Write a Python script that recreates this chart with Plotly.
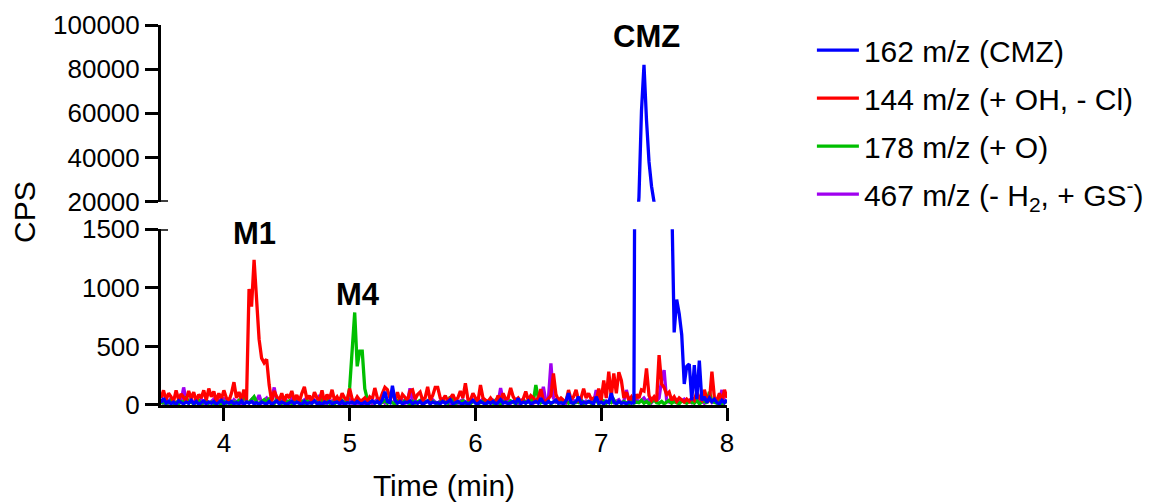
import numpy as np
import plotly.graph_objects as go

# Acquisition grid: 3.50-8.00 min, one scan every 0.02 min (226 scans)
time_min = np.round(np.linspace(3.5, 8.0, 226), 2)

# Extracted ion chromatograms in counts per second, ten scans (0.2 min) per row
cps_162 = [
    20, 57, 15, 30, 10, 25, 5, 35, 20, 10,
    25, 15, 40, 10, 30, 5, 20, 35, 10, 25,
    15, 30, 5, 20, 40, 10, 25, 15, 30, 10,
    20, 10, 35, 5, 25, 15, 30, 10, 20, 5,
    25, 15, 10, 30, 5, 20, 35, 10, 25, 15,
    5, 20, 30, 10, 25, 15, 5, 30, 10, 20,
    15, 35, 10, 20, 5, 25, 15, 30, 10, 20,
    25, 10, 30, 5, 20, 15, 25, 10, 30, 15,
    10, 25, 5, 20, 35, 15, 30, 10, 45, 113,
    30, 20, 164, 40, 15, 30, 10, 25, 20, 35,
    10, 25, 15, 30, 5, 20, 35, 10, 25, 15,
    20, 10, 30, 15, 25, 45, 10, 20, 30, 15,
    10, 25, 5, 20, 40, 15, 10, 30, 20, 5,
    25, 15, 30, 10, 20, 45, 15, 25, 10, 20,
    30, 15, 57, 10, 25, 15, 35, 10, 20, 30,
    15, 57, 20, 10, 30, 15, 25, 40, 15, 20,
    10, 35, 100, 20, 15, 30, 71, 10, 25, 15,
    30, 20, 10, 71, 15, 25, 10, 30, 20, 100,
    25, 10, 30, 15, 20, 10, 25, 15, 20, 6000,
    22000, 61000, 82000, 57000, 38000, 27000, 17000, 9000, 5500, 3800,
    3000, 2400, 2000, 1800, 620, 900, 780, 600, 180, 330,
    350, 40, 340, 50, 380, 40, 70, 20, 60, 30,
    50, 20, 10, 40, 20, 45,
]

cps_144 = [
    60, 125, 40, 100, 70, 30, 125, 45, 95, 60,
    35, 120, 55, 110, 30, 90, 60, 125, 40, 140,
    70, 115, 30, 100, 50, 125, 60, 35, 100, 195,
    60, 110, 45, 130, 40, 990, 840, 1240, 900, 560,
    400, 360, 390, 170, 30, 120, 70, 40, 100, 30,
    90, 60, 120, 40, 85, 30, 100, 155, 50, 80,
    30, 110, 60, 40, 125, 20, 90, 50, 130, 40,
    70, 30, 100, 60, 40, 140, 50, 30, 70, 40,
    40, 60, 30, 70, 50, 145, 60, 40, 100, 150,
    130, 60, 100, 40, 110, 30, 90, 60, 40, 120,
    130, 50, 90, 110, 40, 60, 155, 40, 80, 150,
    150, 60, 40, 80, 35, 60, 90, 40, 60, 120,
    60, 185, 50, 40, 100, 60, 30, 170, 60, 40,
    30, 60, 30, 20, 80, 40, 100, 50, 60, 145,
    70, 40, 60, 30, 50, 115, 40, 80, 60, 30,
    60, 135, 40, 30, 60, 80, 270, 90, 40, 60,
    40, 30, 128, 50, 70, 130, 40, 60, 140, 60,
    100, 50, 60, 30, 140, 40, 210, 60, 285, 70,
    270, 100, 280, 210, 60, 110, 40, 70, 30, 90,
    60, 130, 120, 313, 80, 40, 70, 30, 426, 180,
    150, 90, 110, 40, 70, 30, 60, 40, 25, 50,
    30, 60, 40, 110, 60, 40, 130, 50, 30, 284,
    60, 40, 100, 30, 130, 60,
]

cps_178 = [
    10, 30, 5, 20, 40, 15, 25, 10, 30, 20,
    71, 15, 30, 5, 25, 40, 10, 20, 35, 15,
    25, 10, 40, 20, 5, 30, 15, 45, 10, 25,
    20, 40, 15, 128, 30, 20, 50, 71, 25, 10,
    30, 45, 15, 60, 20, 10, 50, 30, 15, 40,
    20, 35, 10, 45, 25, 15, 30, 10, 40, 20,
    15, 30, 25, 10, 40, 20, 35, 15, 25, 10,
    30, 20, 40, 15, 30, 150, 480, 790, 330, 460,
    460, 140, 50, 20, 35, 15, 30, 10, 25, 40,
    15, 30, 20, 10, 35, 25, 15, 40, 20, 10,
    30, 15, 25, 40, 10, 20, 35, 15, 30, 20,
    10, 25, 40, 20, 15, 71, 30, 10, 25, 20,
    35, 15, 25, 10, 30, 40, 15, 20, 35, 10,
    20, 30, 15, 40, 25, 10, 30, 20, 15, 35,
    25, 10, 30, 20, 45, 15, 30, 60, 25, 170,
    60, 20, 35, 15, 30, 10, 25, 40, 15, 30,
    20, 35, 15, 25, 10, 30, 20, 40, 15, 25,
    30, 15, 25, 40, 10, 20, 35, 15, 30, 20,
    45, 10, 25, 15, 30, 20, 10, 35, 15, 25,
    20, 40, 15, 30, 10, 25, 45, 20, 15, 30,
    10, 25, 40, 15, 30, 20, 10, 35, 25, 15,
    30, 20, 15, 40, 10, 25, 35, 15, 113, 30,
    20, 15, 35, 10, 25, 30,
]

cps_467 = [
    30, 15, 45, 20, 60, 25, 10, 40, 30, 150,
    40, 20, 55, 10, 35, 25, 50, 15, 40, 20,
    30, 50, 15, 40, 25, 60, 20, 35, 10, 45,
    25, 40, 15, 55, 30, 20, 45, 10, 35, 85,
    20, 40, 60, 25, 45, 150, 30, 15, 50, 20,
    35, 15, 57, 25, 40, 10, 30, 45, 20, 35,
    15, 40, 25, 85, 30, 10, 45, 20, 35, 15,
    40, 25, 10, 35, 20, 45, 15, 30, 10, 25,
    35, 15, 40, 25, 10, 30, 50, 20, 35, 15,
    30, 45, 20, 10, 35, 25, 40, 15, 30, 142,
    25, 40, 15, 30, 50, 20, 35, 10, 45, 25,
    15, 35, 50, 20, 30, 10, 40, 25, 15, 35,
    45, 20, 30, 15, 40, 25, 10, 35, 50, 20,
    30, 15, 40, 25, 10, 145, 35, 20, 45, 15,
    25, 40, 15, 35, 50, 20, 30, 45, 15, 30,
    60, 40, 156, 30, 50, 355, 60, 25, 40, 20,
    35, 15, 45, 25, 40, 20, 30, 50, 15, 35,
    25, 40, 20, 128, 30, 45, 15, 35, 25, 40,
    20, 30, 45, 15, 35, 128, 40, 20, 30, 50,
    25, 40, 60, 30, 50, 20, 45, 35, 60, 213,
    298, 40, 25, 50, 30, 45, 20, 35, 50, 25,
    40, 20, 35, 50, 25, 40, 15, 30, 45, 20,
    35, 25, 40, 128, 20, 35,
]

# Legend text and colours, listed bottom layer first
series_names = [
    "467 m/z (- H<sub>2</sub>, + GS<sup>-</sup>)",
    "178 m/z (+ O)",
    "144 m/z (+ OH, - Cl)",
    "162 m/z (CMZ)",
]
series_values = [cps_467, cps_178, cps_144, cps_162]
series_colors = ["#A000F0", "#00BF00", "#FF0000", "#0000FF"]
legend_rank = [4, 3, 2, 1]

# Peak labels and the trace each one belongs to
peak_labels = ["M1", "M4", "CMZ"]
peak_series = [cps_144, cps_178, cps_162]

x_ticks = [4, 5, 6, 7, 8]
low_ticks = [0, 500, 1000, 1500]
high_ticks = [20000, 40000, 60000, 80000, 100000]

FONT = "Liberation Sans, Arial, sans-serif"
AXIS_W = 3
LINE_W = 3.3

fig = go.Figure()
for name, vals, col, rank in zip(series_names, series_values, series_colors, legend_rank):
    grp = name.split()[0]
    # lower segment of the broken axis
    fig.add_trace(go.Scatter(
        x=time_min, y=vals, mode="lines", name=name, legendgroup=grp,
        legendrank=rank, line=dict(color=col, width=LINE_W),
        xaxis="x", yaxis="y",
    ))
    # upper segment
    fig.add_trace(go.Scatter(
        x=time_min, y=vals, mode="lines", name=name, legendgroup=grp,
        legendrank=rank, showlegend=False, line=dict(color=col, width=LINE_W),
        xaxis="x2", yaxis="y2",
    ))

# label placement offsets in px (above the apex)
label_shift = [(0, 7), (3, -2), (3, 9)]
for lab, vals, (dx, dy) in zip(peak_labels, peak_series, label_shift):
    k = int(np.argmax(vals))
    on_top = vals[k] > 1500
    fig.add_annotation(
        x=time_min[k], y=vals[k], xref="x2" if on_top else "x",
        yref="y2" if on_top else "y", text=f"<b>{lab}</b>", showarrow=False,
        xanchor="center", yanchor="bottom", xshift=dx, yshift=dy,
        font=dict(family=FONT, size=31, color="black"),
    )

# y-axis title centred on both segments
fig.add_annotation(
    x=-0.2403, y=0.508, xref="paper", yref="paper", text="CPS",
    textangle=-90, showarrow=False, xanchor="center", yanchor="middle",
    font=dict(family=FONT, size=30, color="black"),
)

# short caps at both ends of the axis break
for yref, yv in (("y", low_ticks[-1]), ("y2", high_ticks[0])):
    fig.add_shape(
        type="line", xref="paper", yref=yref, x0=0, x1=0.0124, y0=yv, y1=yv,
        line=dict(color="black", width=AXIS_W), layer="above",
    )

axis_common = dict(
    showline=True, linecolor="black", linewidth=AXIS_W, ticks="outside",
    ticklen=13, tickwidth=AXIS_W, tickcolor="black", showgrid=False,
    zeroline=False, automargin=False,
    tickfont=dict(family=FONT, size=26, color="black"),
)

fig.update_layout(
    width=1164, height=504,
    margin=dict(l=161, r=437, t=25, b=99),
    paper_bgcolor="white", plot_bgcolor="white",
    font=dict(family=FONT, color="black"),
    xaxis=dict(
        **axis_common, domain=[0, 1], anchor="y", range=[3.5, 8],
        tickvals=x_ticks, layer="below traces",
        title=dict(text="Time (min)", font=dict(family=FONT, size=30), standoff=18),
    ),
    xaxis2=dict(domain=[0, 1], anchor="y2", range=[3.5, 8], matches="x", visible=False),
    yaxis=dict(**axis_common, domain=[0, 0.4624], anchor="x", range=[0, 1500],
               tickvals=low_ticks, tickformat="d"),
    yaxis2=dict(**axis_common, domain=[0.535, 1], anchor="x2", range=[20000, 100000],
                tickvals=high_ticks, tickformat="d"),
    legend=dict(
        x=1.150, y=1.0025, xanchor="left", yanchor="top",
        traceorder="grouped", tracegroupgap=6, itemwidth=42,
        font=dict(family=FONT, size=30, color="black"),
        bgcolor="rgba(0,0,0,0)", borderwidth=0,
    ),
    showlegend=True,
)

fig.write_html("out.html")
